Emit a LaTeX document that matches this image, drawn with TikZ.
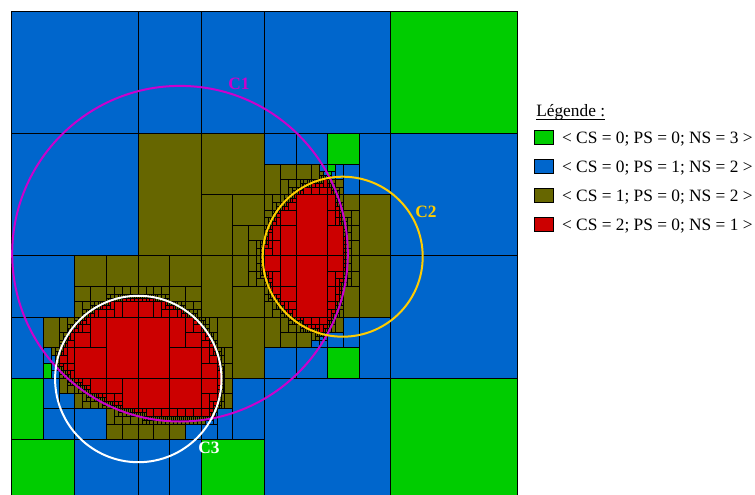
\documentclass[tikz,border=0pt]{standalone}
\usepackage{fontspec}
\setmainfont{Liberation Serif}
\usetikzlibrary{positioning}
\definecolor{setgreen}{RGB}{0,204,0}
\definecolor{setblue}{RGB}{0,102,204}
\definecolor{setolive}{RGB}{102,102,0}
\definecolor{setred}{RGB}{204,0,0}
\definecolor{ringmagenta}{RGB}{204,0,204}
\definecolor{ringyellow}{RGB}{255,204,0}
\tikzset{
  cellbox/.style={draw=black, line width=0.4pt},
  ringline/.style={line width=1.5pt},
  ringlabel/.style={font=\bfseries\fontsize{13}{13}\selectfont, inner sep=0pt},
  keybox/.style={draw=black, line width=0.5pt, minimum width=14pt, minimum height=10pt, inner sep=0pt},
  keytext/.style={font=\fontsize{13}{14}\selectfont, inner sep=0pt, right=6.5pt of #1, yshift=-1pt}
}
\newcount\covercount
\newcount\partcount
\newcommand{\testdisc}[7]{%
  \ifnum\fpeval{max(abs(#1-#5),abs(#3-#5))^2+max(abs(#2-#6),abs(#4-#6))^2<=#7^2}=1
    \advance\covercount by 1
  \else
    \ifnum\fpeval{max(#5-#3,#1-#5,0)^2+max(#6-#4,#2-#6,0)^2<#7^2}=1
      \advance\partcount by 1
    \fi
  \fi}
\newcommand{\drawcell}[5]{\draw[cellbox, fill=#5] (#1,#2) rectangle (#3,#4);}
\newcommand{\splitcell}[4]{%
  \begingroup
  \covercount=0 \partcount=0
  \testdisc{#1}{#2}{#3}{#4}{180}{253.7}{166.4}%
  \testdisc{#1}{#2}{#3}{#4}{342.7}{256.7}{80}%
  \testdisc{#1}{#2}{#3}{#4}{138.3}{379}{83.2}%
  \ifnum\covercount=1 \def\cellfill{setolive}\else
    \ifnum\partcount>0 \def\cellfill{setblue}\else \def\cellfill{setgreen}\fi
  \fi
  \ifnum\covercount>1
    \drawcell{#1}{#2}{#3}{#4}{setred}%
  \else
    \ifnum\numexpr\covercount+\partcount\relax<2
      \drawcell{#1}{#2}{#3}{#4}{\cellfill}%
    \else
      \ifnum\fpeval{#3-#1<3}=1
        \drawcell{#1}{#2}{#3}{#4}{\cellfill}%
      \else
        \ifnum\fpeval{#3-#1>=#4-#2}=1
          \edef\cellmid{\fpeval{round((#1+#3)/2,3)}}%
          \edef\cellnext{\noexpand\splitcell{#1}{#2}{\cellmid}{#4}\noexpand\splitcell{\cellmid}{#2}{#3}{#4}}%
        \else
          \edef\cellmid{\fpeval{round((#2+#4)/2,3)}}%
          \edef\cellnext{\noexpand\splitcell{#1}{#2}{#3}{\cellmid}\noexpand\splitcell{#1}{\cellmid}{#3}{#4}}%
        \fi
        \cellnext
      \fi
    \fi
  \fi
  \endgroup}
\begin{document}
\begin{tikzpicture}[x=0.75pt, y=-0.75pt]
  \clip (0,0) rectangle (755,495);
  \splitcell{11.5}{10.9}{137.875}{133.3}
  \splitcell{137.875}{10.9}{201.06}{133.3}
  \splitcell{201.06}{10.9}{264.25}{133.3}
  \splitcell{264.25}{10.9}{390.625}{133.3}
  \splitcell{390.625}{10.9}{517}{133.3}
  \splitcell{11.5}{133.3}{137.875}{255.7}
  \splitcell{137.875}{133.3}{264.25}{255.7}
  \splitcell{264.25}{133.3}{390.625}{255.7}
  \splitcell{390.625}{133.3}{517}{255.7}
  \splitcell{11.5}{255.7}{137.875}{378.1}
  \splitcell{137.875}{255.7}{264.25}{378.1}
  \splitcell{264.25}{255.7}{390.625}{378.1}
  \splitcell{390.625}{255.7}{517}{378.1}
  \splitcell{11.5}{378.1}{137.875}{500.5}
  \splitcell{137.875}{378.1}{201.06}{439.3}
  \splitcell{137.875}{439.3}{169.47}{500.5}
  \splitcell{169.47}{439.3}{201.06}{500.5}
  \splitcell{201.06}{378.1}{264.25}{500.5}
  \splitcell{264.25}{378.1}{390.625}{500.5}
  \splitcell{390.625}{378.1}{517}{500.5}
  \draw[ringline, ringmagenta] (180,253.7) circle (167.8);
  \draw[ringline, ringyellow] (342.7,256.7) circle (80);
  \draw[ringline, white] (138.3,379) circle (83.2);
  \node[ringlabel, text=ringmagenta] (labelC1) at (239,84) {C1};
  \node[ringlabel, text=ringyellow] (labelC2) at (426,212) {C2};
  \node[ringlabel, text=white] (labelC3) at (209,448) {C3};
  \node[font=\fontsize{13}{14}\selectfont, inner sep=0pt, anchor=base west] (legendtitle) at (536,116.7) {Légende :~};
  \draw[line width=0.5pt] ([yshift=-2pt]legendtitle.base west) -- ([yshift=-2pt]legendtitle.base east);
  \node[keybox, fill=setgreen] (keyA) at (543.5,137.5) {};
  \node[keybox, fill=setblue, below=11.2pt of keyA] (keyB) {};
  \node[keybox, fill=setolive, below=11.2pt of keyB] (keyC) {};
  \node[keybox, fill=setred, below=11.2pt of keyC] (keyD) {};
  \node[keytext=keyA] (textA) {< CS = 0; PS = 0; NS = 3 >};
  \node[keytext=keyB] (textB) {< CS = 0; PS = 1; NS = 2 >};
  \node[keytext=keyC] (textC) {< CS = 1; PS = 0; NS = 2 >};
  \node[keytext=keyD] (textD) {< CS = 2; PS = 0; NS = 1 >};
\end{tikzpicture}
\end{document}
